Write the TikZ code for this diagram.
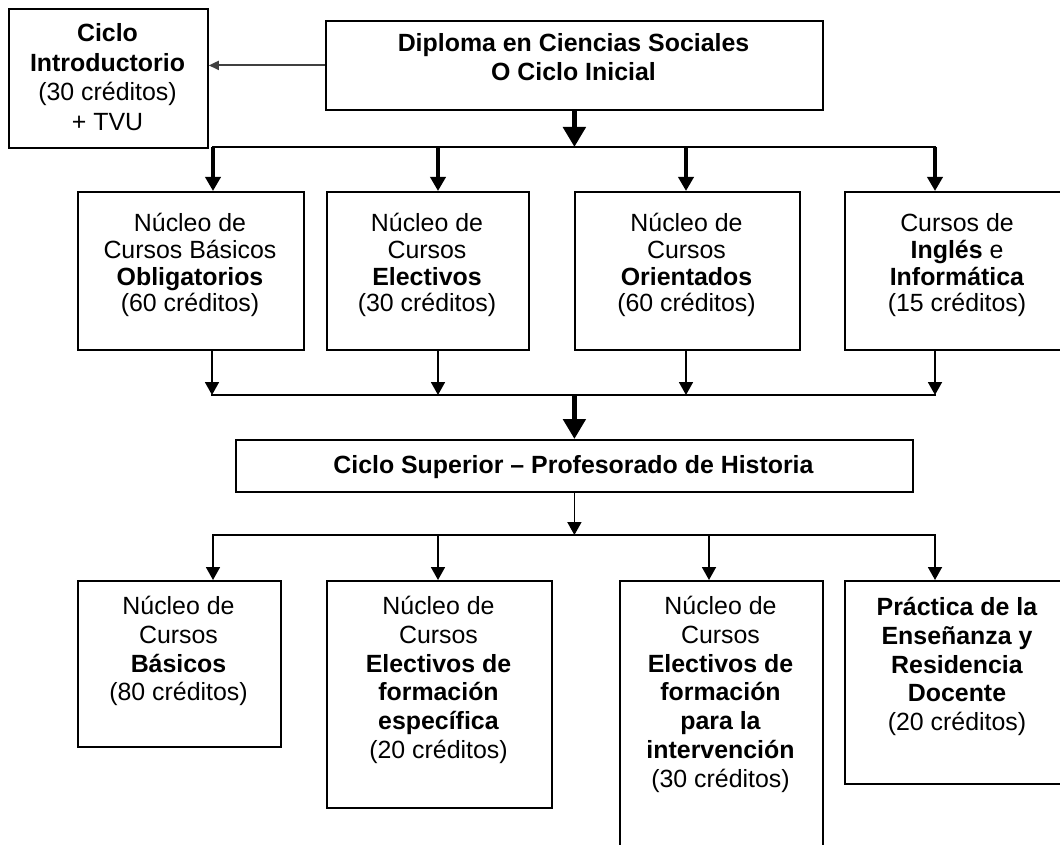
\documentclass[tikz,border=0pt]{standalone}
\usepackage{fontspec}
\setmainfont{Liberation Sans}
\usetikzlibrary{arrows.meta}
\newcommand\firstln{\rule{0pt}{24pt}}
\begin{document}
\begin{tikzpicture}[x=1pt,y=-1pt,
  box/.style={draw, line width=1.8pt, rectangle, inner sep=0pt, anchor=north west},
  txt/.style={align=center, inner sep=0pt, anchor=north},
  fA/.style={font=\fontsize{24.9}{29.5}\selectfont},
  fB/.style={font=\fontsize{24.9}{28.5}\selectfont},
  fC/.style={font=\fontsize{24.9}{26.7}\selectfont},
  fD/.style={font=\fontsize{24.9}{28.7}\selectfont},
  bus/.style={line width=2pt, line cap=rect},
  thinarr/.style={line width=1.8pt, -{Triangle[length=13pt,width=14pt]}},
  medarr/.style={line width=3.5pt, -{Triangle[length=14pt,width=15pt]}},
  thickarr/.style={line width=5pt, -{Triangle[length=20pt,width=22pt]}},
  leftarr/.style={line width=1.8pt, draw=black!75, -{Triangle[length=10pt,width=9pt]}}
]
\useasboundingbox (0,0) rectangle (1060,845);
\clip (0,0) rectangle (1060,845);

% top boxes
\node[box, minimum width=199pt, minimum height=139pt] (intro) at (8,8) {};
\node[txt, fA] (introT) at (107.5,17.6) {\firstln\textbf{Ciclo}\\\textbf{Introductorio}\\(30 créditos)\\+ TVU};
\node[box, minimum width=497pt, minimum height=89pt] (dip) at (325,20) {};
\node[txt, fB] (dipT) at (573.5,27.6) {\firstln\textbf{Diploma en Ciencias Sociales}\\\textbf{O Ciclo Inicial}};

% row 2
\node[box, minimum width=226pt, minimum height=158pt] (b1) at (77,191) {};
\node[box, minimum width=202pt, minimum height=158pt] (b2) at (326,191) {};
\node[box, minimum width=225pt, minimum height=158pt] (b3) at (574,191) {};
\node[box, minimum width=226pt, minimum height=158pt] (b4) at (844,191) {};
\node[txt, fC] (b1T) at (190,207.6) {\firstln Núcleo de\\Cursos Básicos\\\textbf{Obligatorios}\\(60 créditos)};
\node[txt, fC] (b2T) at (427,207.6) {\firstln Núcleo de\\Cursos\\\textbf{Electivos}\\(30 créditos)};
\node[txt, fC] (b3T) at (686.5,207.6) {\firstln Núcleo de\\Cursos\\\textbf{Orientados}\\(60 créditos)};
\node[txt, fC] (b4T) at (957,207.6) {\firstln Cursos de\\\textbf{Inglés} e\\\textbf{Informática}\\(15 créditos)};

% ciclo superior
\node[box, minimum width=677pt, minimum height=52pt] (sup) at (235,439) {};
\node[txt, fB] (supT) at (573.5,449.6) {\firstln\textbf{Ciclo Superior – Profesorado de Historia}};

% bottom row
\node[box, minimum width=203pt, minimum height=166pt] (c1) at (77,580) {};
\node[box, minimum width=225pt, minimum height=227pt] (c2) at (326,580) {};
\node[box, minimum width=203pt, minimum height=285pt] (c3) at (619,580) {};
\node[box, minimum width=226pt, minimum height=203pt] (c4) at (844,580) {};
\node[txt, fD] (c1T) at (178.5,590.6) {\firstln Núcleo de\\Cursos\\\textbf{Básicos}\\(80 créditos)};
\node[txt, fD] (c2T) at (438.5,590.6) {\firstln Núcleo de\\Cursos\\\textbf{Electivos de}\\\textbf{formación}\\\textbf{específica}\\(20 créditos)};
\node[txt, fD] (c3T) at (720.5,590.6) {\firstln Núcleo de\\Cursos\\\textbf{Electivos de}\\\textbf{formación}\\\textbf{para la}\\\textbf{intervención}\\(30 créditos)};
\node[txt, fD] (c4T) at (957,591.6) {\firstln\textbf{Práctica de la}\\\textbf{Enseñanza y}\\\textbf{Residencia}\\\textbf{Docente}\\(20 créditos)};

% junction coordinates
\coordinate (u1) at (213,147);
\coordinate (u2) at (438,147);
\coordinate (u3) at (686,147);
\coordinate (u4) at (935,147);
\coordinate (m1) at (212,395);
\coordinate (m2) at (438,395);
\coordinate (m3) at (686,395);
\coordinate (m4) at (935,395);
\coordinate (d1) at (213,535);
\coordinate (d2) at (438,535);
\coordinate (d3) at (709,535);
\coordinate (d4) at (935,535);

% connectors
\draw[leftarr] (dip.west) -- (intro.east |- dip.west);
\draw[thickarr] (dip.south) -- (dip.south |- u1);
\draw[bus] (u1) -- (u4);
\draw[medarr] (u1) -- (u1 |- b1.north);
\draw[medarr] (u2) -- (u2 |- b2.north);
\draw[medarr] (u3) -- (u3 |- b3.north);
\draw[medarr] (u4) -- (u4 |- b4.north);

\draw[thinarr] (m1 |- b1.south) -- (m1);
\draw[thinarr] (m2 |- b2.south) -- (m2);
\draw[thinarr] (m3 |- b3.south) -- (m3);
\draw[thinarr] (m4 |- b4.south) -- (m4);
\draw[bus] (m1) -- (m4);
\draw[thickarr] (sup.north |- m1) -- (sup.north);

\draw[thinarr] (sup.south) -- (sup.south |- d1);
\draw[bus] (d1) -- (d4);
\draw[thinarr] (d1) -- (d1 |- c1.north);
\draw[thinarr] (d2) -- (d2 |- c2.north);
\draw[thinarr] (d3) -- (d3 |- c3.north);
\draw[thinarr] (d4) -- (d4 |- c4.north);
\end{tikzpicture}
\end{document}
